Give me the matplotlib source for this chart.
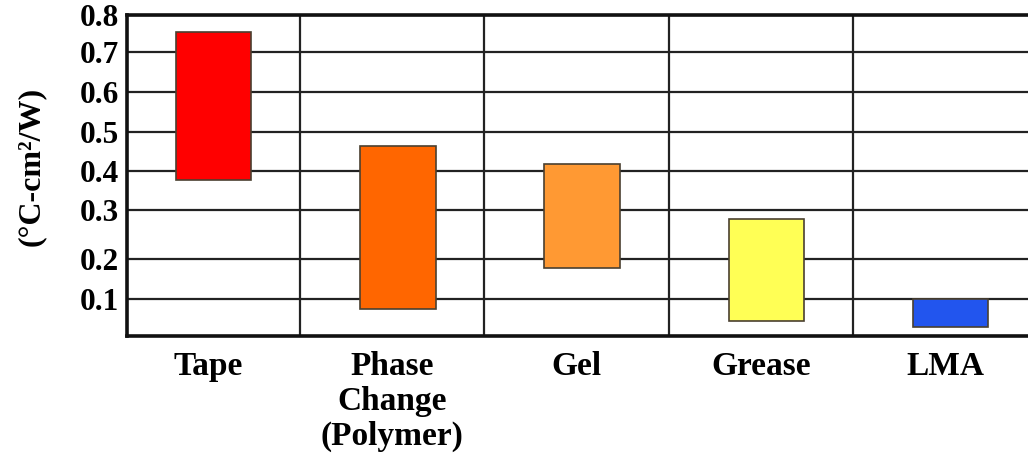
import numpy as np
import matplotlib
matplotlib.use('Agg')
import matplotlib.pyplot as plt

# thermal interface materials, resistance ranges
materials = ['Tape', 'Phase\nChange\n(Polymer)', 'Gel', 'Grease', 'LMA']
low = [0.377, 0.073, 0.178, 0.041, 0.024]
high = [0.755, 0.465, 0.418, 0.282, 0.100]
colors = ['#ff0000', '#ff6600', '#ff9933', '#ffff55', '#2255ee']

tick_values = [0.1, 0.2, 0.3, 0.4, 0.5, 0.6, 0.7, 0.8]
tick_labels = ['0.1', '0.2', '0.3', '0.4', '0.5', '0.6', '0.7', '0.8']

# the original axis is unevenly spaced, so use a piecewise scale
knot_v = [-1.0, 0.0, 0.1, 0.2, 0.3, 0.4, 0.5, 0.6, 0.7, 0.8, 2.0]
knot_p = [-370, 0, 37, 77, 126, 165, 204, 244, 284, 321, 321 + 1.2 * 370]


def forward(v):
    return np.interp(v, knot_v, knot_p)


def inverse(p):
    return np.interp(p, knot_p, knot_v)


plt.rcParams['font.family'] = ['Liberation Serif', 'DejaVu Serif']
plt.rcParams['font.weight'] = 'bold'

fig = plt.figure(figsize=(10.28, 4.53), dpi=100)
ax = fig.add_axes([127 / 1028, 117 / 453, 1 - 127 / 1028, 321 / 453])

ax.set_yscale('function', functions=(forward, inverse))
ax.set_ylim(0, 0.8)
ax.set_xlim(-0.439, 4.45)

x = np.arange(len(materials)) + 0.03
heights = [h - l for h, l in zip(high, low)]
ax.bar(x, heights, bottom=low, width=0.41, color=colors,
       edgecolor='#4a4030', linewidth=1.2, zorder=3)

ax.set_yticks(tick_values)
ax.set_yticklabels(tick_labels, fontsize=22.5, fontweight='bold')
ax.yaxis.set_minor_locator(matplotlib.ticker.NullLocator())
ax.set_xticks(np.arange(len(materials)))
ax.set_xticklabels(materials, fontsize=24, fontweight='bold',
                   linespacing=1.15, va='top')
ax.set_xticks([0.5, 1.5, 2.5, 3.5], minor=True)
ax.tick_params(axis='both', which='both', length=0)
ax.tick_params(axis='y', pad=6)
ax.tick_params(axis='x', pad=11)

ax.grid(axis='y', which='major', color='#222222', linewidth=1.6, zorder=0)
ax.grid(axis='x', which='minor', color='#222222', linewidth=1.6, zorder=0)
ax.set_axisbelow(True)

for side in ['left', 'top', 'bottom']:
    ax.spines[side].set_linewidth(2.6)
    ax.spines[side].set_color('#111111')
ax.spines['right'].set_visible(False)

fig.text(31 / 1028, 1 - 166 / 453, '(°C-cm²/W)', rotation=90,
         ha='center', va='center', fontsize=23, fontweight='bold')

fig.savefig('out.png', dpi=100)
